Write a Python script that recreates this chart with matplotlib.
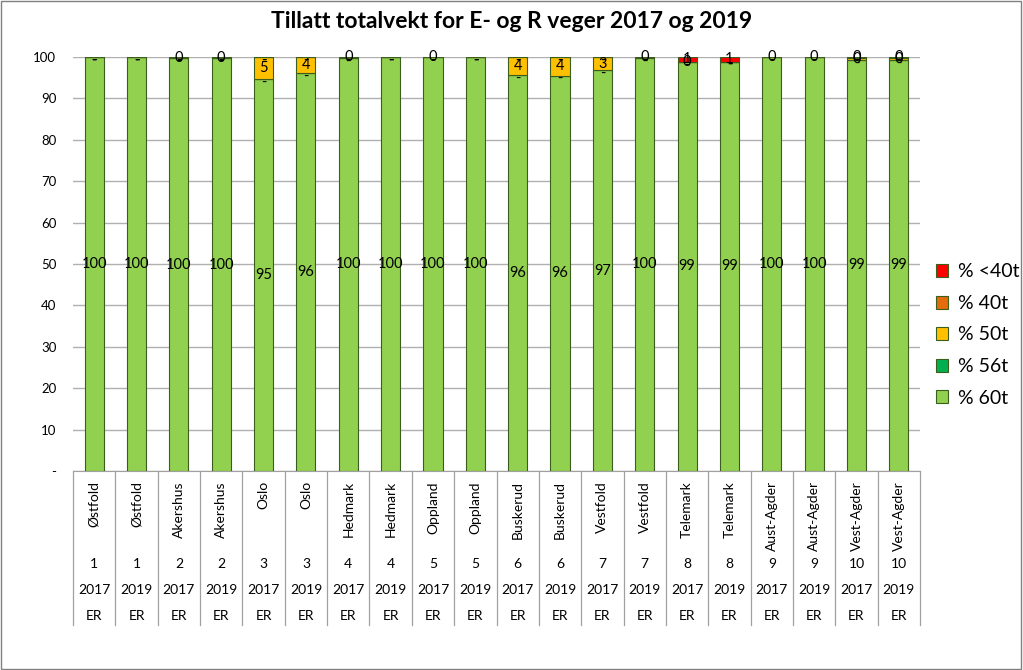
import numpy as np
import matplotlib.pyplot as plt
from matplotlib.transforms import blended_transform_factory

plt.rcParams['font.family'] = ['Lato', 'DejaVu Sans']

fylker = ["Østfold", "Østfold", "Akershus", "Akershus", "Oslo", "Oslo",
          "Hedmark", "Hedmark", "Oppland", "Oppland", "Buskerud", "Buskerud",
          "Vestfold", "Vestfold", "Telemark", "Telemark", "Aust-Agder",
          "Aust-Agder", "Vest-Agder", "Vest-Agder"]
nummer = ["1", "1", "2", "2", "3", "3", "4", "4", "5", "5",
          "6", "6", "7", "7", "8", "8", "9", "9", "10", "10"]
aar = ["2017", "2019"] * 10
vegtype = ["ER"] * 20

# percent of road length by allowed total weight
p60 = [100, 100, 99.7, 99.7, 94.6, 96.2, 99.8, 100, 99.9, 100,
       95.6, 95.5, 96.8, 99.8, 98.8, 98.9, 99.9, 99.9, 99.3, 99.3]
p56 = [0] * 20
p50 = [0, 0, 0.3, 0.3, 5.4, 3.8, 0.2, 0, 0.1, 0,
       4.4, 4.5, 3.2, 0.2, 0, 0, 0.1, 0.1, 0.5, 0.5]
p40 = [0, 0, 0, 0, 0, 0, 0, 0, 0, 0,
       0, 0, 0, 0, 0.1, 0, 0, 0, 0.2, 0.2]
p_u40 = [0, 0, 0, 0, 0, 0, 0, 0, 0, 0,
         0, 0, 0, 0, 1.1, 1.1, 0, 0, 0, 0]

series = [("% 60t", p60, "#92D050"),
          ("% 56t", p56, "#00B050"),
          ("% 50t", p50, "#FFC000"),
          ("% 40t", p40, "#E46C0A"),
          ("% <40t", p_u40, "#FF0000")]

fig = plt.figure(figsize=(10.23, 6.70), dpi=100)
ax = fig.add_axes([73 / 1023, 1 - 471 / 670, 847 / 1023, 414 / 670])

x = np.arange(len(fylker))
bottom = np.zeros(len(fylker))
handles = []
for name, vals, col in series:
    vals = np.array(vals, dtype=float)
    bars = ax.bar(x, vals, 0.45, bottom=bottom, color=col,
                  edgecolor="#3B5E1E", linewidth=0.8, label=name, zorder=3)
    handles.append(bars)
    for xi, b, v in zip(x, bottom, vals):
        if v == 0:
            # excel shows zero as a dash, sitting a bit low
            ax.text(xi, b - 0.9, "-", ha="center", va="center",
                    fontsize=10.5, zorder=4)
        else:
            ax.text(xi, b + v / 2, f"{v:.0f}", ha="center", va="center",
                    fontsize=10.5, zorder=4)
    bottom += vals

ax.set_xlim(-0.5, len(fylker) - 0.5)
ax.set_ylim(0, 100)
ax.set_yticks(range(0, 101, 10))
ax.set_yticklabels(["-"] + [str(v) for v in range(10, 101, 10)], fontsize=9.5)
ax.yaxis.grid(True, color="#B0B0B0", linewidth=1, zorder=0)
ax.tick_params(axis="y", length=0, pad=12)
ax.set_xticks([])
for s in ["top", "right", "left"]:
    ax.spines[s].set_visible(False)
ax.spines["bottom"].set_color("#A0A0A0")

# multi-level category axis
tr = blended_transform_factory(ax.transData, fig.transFigure)
y_top = 1 - 471 / 670
y_bot = 1 - 625 / 670
for k in range(len(fylker) + 1):
    ax.plot([k - 0.5, k - 0.5], [y_top, y_bot], transform=tr, color="#A0A0A0",
            linewidth=0.9, clip_on=False)
for xi in x:
    ax.text(xi, 1 - 481 / 670, fylker[xi], transform=tr, rotation=90,
            ha="center", va="top", fontsize=10)
    ax.text(xi, 1 - 564 / 670, nummer[xi], transform=tr, ha="center",
            va="center", fontsize=10)
    ax.text(xi, 1 - 590 / 670, aar[xi], transform=tr, ha="center",
            va="center", fontsize=10)
    ax.text(xi, 1 - 616 / 670, vegtype[xi], transform=tr, ha="center",
            va="center", fontsize=10)

leg = fig.legend(handles[::-1], [s[0] for s in series][::-1],
                 loc="center left", bbox_to_anchor=(918 / 1023, 1 - 335 / 670),
                 frameon=False, fontsize=14, handlelength=0.65,
                 handleheight=0.65, labelspacing=0.75, handletextpad=0.5)

fig.suptitle("Tillatt totalvekt for E- og R veger 2017 og 2019",
             y=1 - 22 / 670, va="center", fontsize=16.5, fontweight="bold")

fig.patches.append(plt.Rectangle((0.001, 0.001), 0.997, 0.997,
                                 transform=fig.transFigure, fill=False,
                                 edgecolor="#808080", linewidth=1))

fig.savefig("out.png", dpi=100)
